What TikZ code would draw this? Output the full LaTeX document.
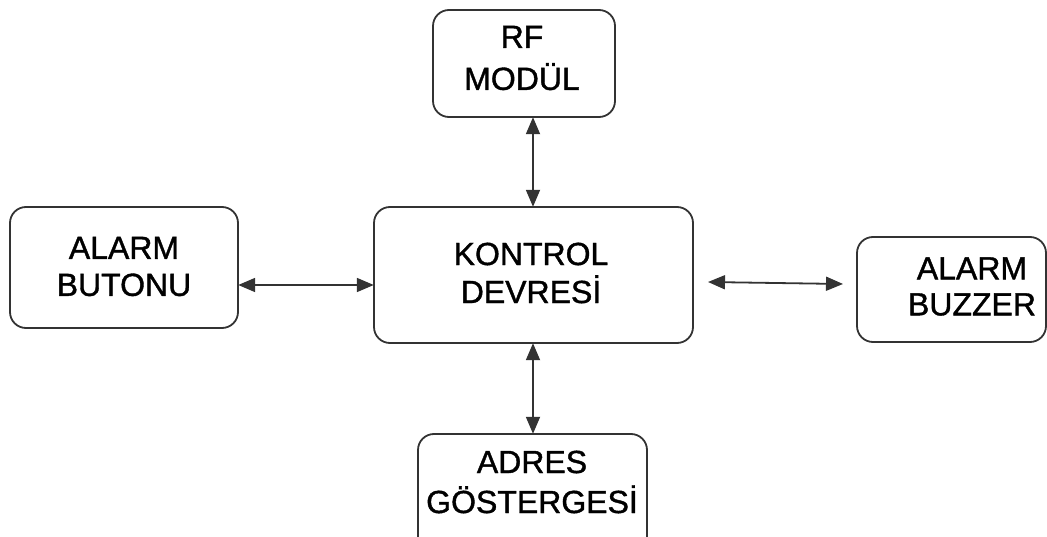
\documentclass[tikz,border=0pt]{standalone}
\usepackage{fontspec}
\setmainfont{Liberation Sans}[FakeBold=1.2]
\usetikzlibrary{arrows.meta}
\definecolor{edge}{HTML}{333333}
\begin{document}
\begin{tikzpicture}[x=1pt,y=-1pt,
  box/.style={draw=edge,line width=1.8pt,rounded corners=16pt},
  lbl/.style={inner sep=0pt,align=center,font=\fontsize{32}{38}\selectfont},
  conn/.style={draw=edge,line width=1.8pt,{Triangle[length=17pt,width=14pt]}-{Triangle[length=17pt,width=14pt]}}]
\useasboundingbox (0,0) rectangle (1047,537);
% boxes
\draw[box] (433,10) rectangle (615,117);
\draw[box] (374,207) rectangle (693,343);
\draw[box] (10,207) rectangle (238,328);
\draw[box] (857,237) rectangle (1046,342);
\draw[box] (418,434) rectangle (647,560);
% anchor nodes for boxes
\node[inner sep=0pt,minimum width=182pt,minimum height=107pt] (rf) at (524,63.5) {};
\node[inner sep=0pt,minimum width=319pt,minimum height=136pt] (kontrol) at (533.5,275) {};
\node[inner sep=0pt,minimum width=228pt,minimum height=121pt] (butonu) at (124,267.5) {};
\node[inner sep=0pt,minimum width=189pt,minimum height=105pt] (buzzer) at (951.5,289.5) {};
\node[inner sep=0pt,minimum width=229pt,minimum height=126pt] (adres) at (532.5,497) {};
% labels
\node[lbl,font=\fontsize{32}{42}\selectfont] (rft) at (522,58) {RF\\MODÜL};
\node[lbl] (kontrolt) at (531,273) {KONTROL\\DEVRESİ};
\node[lbl,font=\fontsize{32}{37}\selectfont] (butonut) at (124,266.5) {ALARM\\BUTONU};
\node[lbl,font=\fontsize{32}{36}\selectfont] (buzzert) at (972,286.5) {ALARM\\BUZZER};
\node[lbl,font=\fontsize{32}{40}\selectfont] (adrest) at (532,482) {ADRES\\GÖSTERGESİ};
% helper coordinates
\coordinate (xv) at (533,0);
\coordinate (yl) at (0,285);
\coordinate (ra) at (708,282);
\coordinate (rb) at (843,284);
% connectors
\draw[conn] (rf.south -| xv) -- (kontrol.north -| xv);
\draw[conn] (kontrol.south -| xv) -- (adres.north -| xv);
\draw[conn] (butonu.east |- yl) -- (kontrol.west |- yl);
\draw[conn] (ra) -- (rb);
\end{tikzpicture}
\end{document}
